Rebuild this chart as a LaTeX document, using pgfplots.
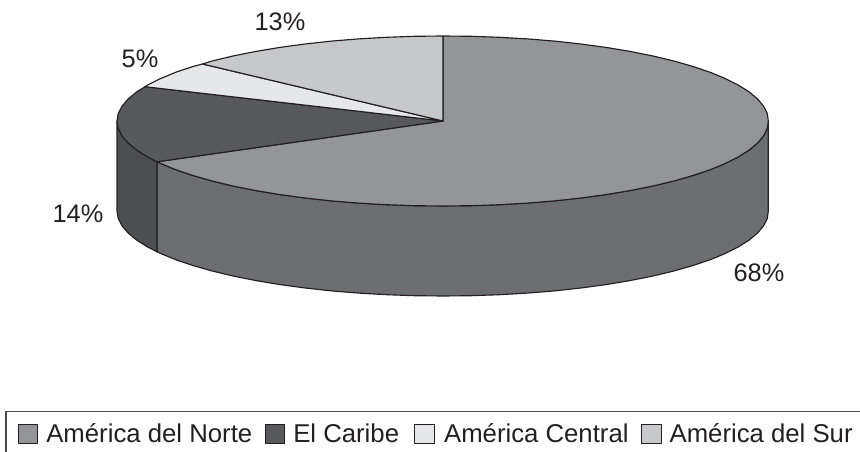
\documentclass[border=0pt]{standalone}
\usepackage{pgfplots}
\pgfplotsset{compat=1.18}
\usepackage{fontspec}
\setmainfont{Liberation Sans}
\definecolor{norte}{HTML}{939598}
\definecolor{norteside}{HTML}{6D6E71}
\definecolor{caribe}{HTML}{58595B}
\definecolor{caribeside}{HTML}{4D4E50}
\definecolor{central}{HTML}{E6E7E8}
\definecolor{sur}{HTML}{C7C8CA}
\definecolor{edge}{HTML}{231F20}
\begin{document}
\begin{tikzpicture}
\begin{axis}[
  name=a,
  scale only axis, width=645pt, height=339pt,
  xmin=0, xmax=860, ymin=0, ymax=452, y dir=reverse,
  hide axis, clip=true, no markers,
  every axis plot/.append style={draw=edge, line width=0.85pt, line join=round},
  legend columns=4,
  legend cell align=left,
  legend style={at={(axis cs:18,434)}, anchor=west, draw=none, fill=none, inner sep=0pt, outer sep=0pt,
    font=\fontsize{19.3pt}{22pt}\selectfont,
    text=edge,
    nodes={inner sep=0pt, outer sep=0pt},
    /tikz/column 2/.style={column sep=9.5pt},
    /tikz/column 4/.style={column sep=11.5pt},
    /tikz/column 6/.style={column sep=9.5pt},
    /tikz/column 1/.style={column sep=6pt},
    /tikz/column 3/.style={column sep=6pt},
    /tikz/column 5/.style={column sep=7pt},
    /tikz/column 7/.style={column sep=6pt}},
  legend image code/.code={\draw[#1,line width=0.75pt] (0pt,-7pt) rectangle (14.5pt,7pt);},
]
% sides
\addplot[forget plot, fill=norteside] coordinates {
(768.3,121)(767.3,128.4)(763.6,135.8)(757.6,143)(749.1,150.1)(738.3,156.9)(725.2,163.5)(710,169.8)(692.7,175.6)(673.5,181.1)(652.6,186.1)(630,190.6)(606,194.6)(580.8,198)(554.5,200.9)(527.4,203.1)(499.6,204.7)(471.4,205.7)(443,206)(414.6,205.7)(386.4,204.7)(358.6,203.1)(331.5,200.9)(305.2,198)(280,194.6)(256,190.6)(233.4,186.1)(212.5,181.1)(193.3,175.6)(175.9,169.8)(160.7,163.5)(157,161.8)
(157,251.8)(160.7,253.5)(175.9,259.8)(193.3,265.6)(212.5,271.1)(233.4,276.1)(256,280.6)(280,284.6)(305.2,288)(331.5,290.9)(358.6,293.1)(386.4,294.7)(414.6,295.7)(443,296)(471.4,295.7)(499.6,294.7)(527.4,293.1)(554.5,290.9)(580.8,288)(606,284.6)(630,280.6)(652.6,276.1)(673.5,271.1)(692.7,265.6)(710,259.8)(725.2,253.5)(738.3,246.9)(749.1,240.1)(757.6,233)(763.6,225.8)(767.3,218.4)(768.3,211)
} --cycle;
\addplot[forget plot, fill=caribeside] coordinates {
(157,161.8)(147.5,156.9)(136.7,150.1)(128.1,143)(122,135.8)(118.2,128.4)(117,121)
(117,211)(118.2,218.4)(122,225.8)(128.1,233)(136.7,240.1)(147.5,246.9)(157,251.8)
} --cycle;
% tops
\addplot[fill=norte] coordinates {
(443,121)(443,36)(471.4,36.3)(499.6,37.3)(527.4,38.9)(554.5,41.1)(580.8,44)(606,47.4)(630,51.4)(652.6,55.9)(673.5,60.9)(692.7,66.4)(710,72.2)(725.2,78.5)(738.3,85.1)(749.1,91.9)(757.6,99)(763.6,106.2)(767.3,113.6)(768.3,121)(767.3,128.4)(763.6,135.8)(757.6,143)(749.1,150.1)(738.3,156.9)(725.2,163.5)(710,169.8)(692.7,175.6)(673.5,181.1)(652.6,186.1)(630,190.6)(606,194.6)(580.8,198)(554.5,200.9)(527.4,203.1)(499.6,204.7)(471.4,205.7)(443,206)(414.6,205.7)(386.4,204.7)(358.6,203.1)(331.5,200.9)(305.2,198)(280,194.6)(256,190.6)(233.4,186.1)(212.5,181.1)(193.3,175.6)(175.9,169.8)(160.7,163.5)(157,161.8)
} --cycle;
\addlegendentry{América del Norte}
\addplot[fill=caribe] coordinates {
(443,121)(157,161.8)(147.5,156.9)(136.7,150.1)(128.1,143)(122,135.8)(118.2,128.4)(117,121)(118.2,113.6)(122,106.2)(128.1,99)(136.7,91.9)(145,86.7)
} --cycle;
\addlegendentry{El Caribe}
\addplot[fill=central] coordinates {
(443,121)(145,86.7)(147.5,85.1)(160.7,78.5)(175.9,72.2)(193.3,66.4)(202.5,64)
} --cycle;
\addlegendentry{América Central}
\addplot[fill=sur] coordinates {
(443,121)(202.5,64)(212.5,60.9)(233.4,55.9)(256,51.4)(280,47.4)(305.2,44)(331.5,41.1)(358.6,38.9)(386.4,37.3)(414.6,36.3)(443,36)
} --cycle;
\addlegendentry{América del Sur}
% legend frame (runs off the page at the right and the bottom)
\addplot[forget plot, draw=black!70, line width=1.1pt] coordinates {(6,452)(6,411.5)(860,411.5)};
% labels
\node[font=\fontsize{19pt}{22pt}\selectfont, text=edge] at (axis cs:280,22) {13\%};
\node[font=\fontsize{19pt}{22pt}\selectfont, text=edge] at (axis cs:140,59) {5\%};
\node[font=\fontsize{19pt}{22pt}\selectfont, text=edge] at (axis cs:78,214) {14\%};
\node[font=\fontsize{19pt}{22pt}\selectfont, text=edge] at (axis cs:759,273) {68\%};
\end{axis}
\path (a.south west) rectangle (a.north east);
\end{tikzpicture}
\end{document}
